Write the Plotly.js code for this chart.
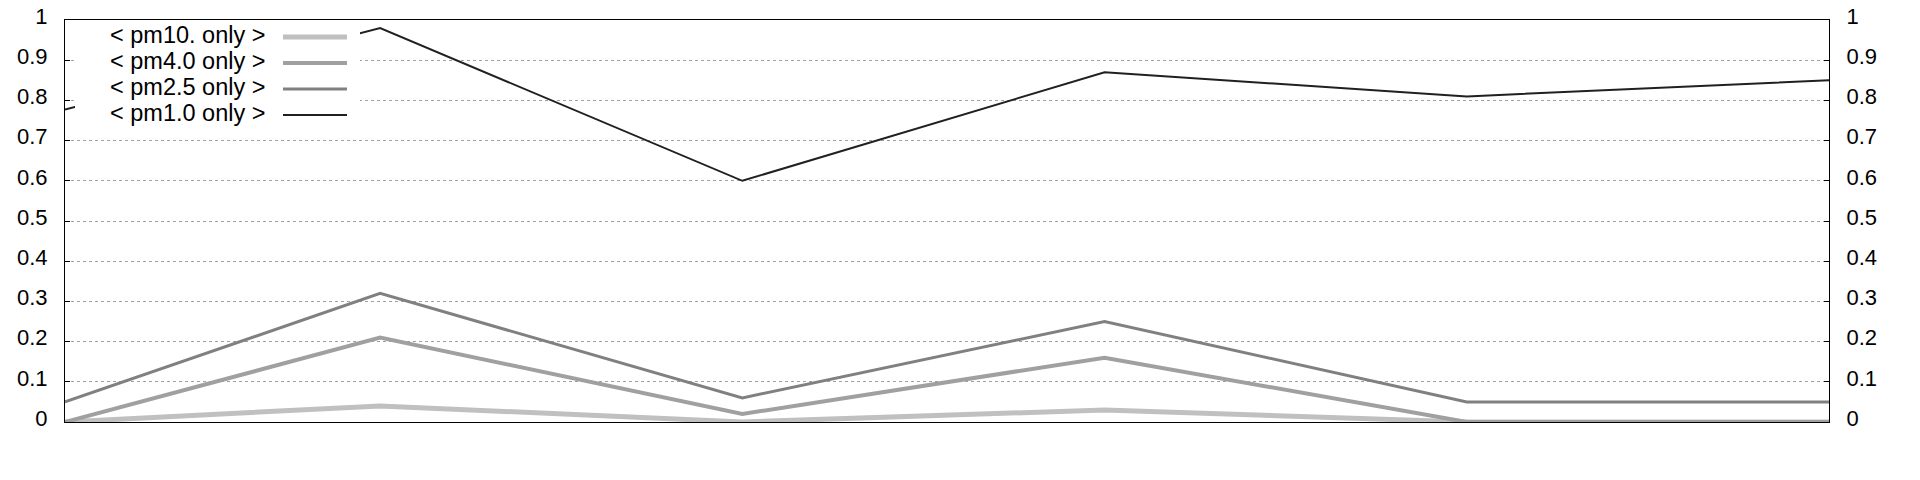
<!DOCTYPE html>
<html><head><meta charset="utf-8">
<script src="https://cdn.plot.ly/plotly-3.0.1.min.js"></script>
<style>html,body{margin:0;padding:0;background:#fff}#chart{width:1920px;height:480px}</style>
</head><body><div id="chart"></div>
<script>
// sample positions (first value is where the visible record starts at the left border)
const xPos = [0.13, 1, 2, 3, 4, 5];
const seriesNames = ['< pm10. only >', '< pm4.0 only >', '< pm2.5 only >', '< pm1.0 only >'];
const pm10Only = [0.0, 0.04, 0.0, 0.03, 0.0, 0.0];
const pm40Only = [0.0, 0.21, 0.02, 0.16, 0.0, 0.0];
const pm25Only = [0.05, 0.32, 0.06, 0.25, 0.05, 0.05];
const pm1Only  = [0.777, 0.98, 0.60, 0.87, 0.81, 0.85];
const yTickVals = [0, 0.1, 0.2, 0.3, 0.4, 0.5, 0.6, 0.7, 0.8, 0.9, 1];
const yTickText = ['0', '0.1', '0.2', '0.3', '0.4', '0.5', '0.6', '0.7', '0.8', '0.9', '1'];

const seriesValues = [pm10Only, pm40Only, pm25Only, pm1Only];
const colors = ['#c0c0c0', '#a0a0a0', '#808080', '#202020'];
const widths = [5, 4, 3, 2];

const FONT = '"Liberation Sans", Arial, sans-serif';
const FS_TICK = 22;
const FS_LEG = 23.5;

const traces = seriesValues.map((vals, i) => ({
  type: 'scatter', mode: 'lines', x: xPos, y: vals, name: seriesNames[i],
  line: {color: colors[i], width: widths[i]}, hoverinfo: 'skip'
}));
// empty trace so the right-hand mirrored axis gets drawn
traces.push({type: 'scatter', mode: 'lines', x: [], y: [], yaxis: 'y2', showlegend: false, hoverinfo: 'skip'});

// layout geometry
const L = 65, R = 91, T = 20, B = 58, W = 1920, H = 480;
const pw = W - L - R, ph = H - T - B;
const px2x = p => (p - L) / pw;
const px2y = p => (H - B - p) / ph;

const rowsPx = [37, 63, 89, 115];
const shapes = [{
  type: 'rect', xref: 'paper', yref: 'paper', layer: 'above',
  x0: px2x(75), x1: px2x(360), y0: px2y(127), y1: px2y(22),
  fillcolor: '#ffffff', line: {width: 0}
}];
const annotations = [];
seriesNames.forEach((n, i) => {
  shapes.push({type: 'line', xref: 'paper', yref: 'paper', layer: 'above',
    x0: px2x(283), x1: px2x(347), y0: px2y(rowsPx[i]), y1: px2y(rowsPx[i]),
    line: {color: colors[i], width: widths[i]}});
  annotations.push({xref: 'paper', yref: 'paper', x: px2x(267), y: px2y(rowsPx[i] - 2),
    xanchor: 'right', yanchor: 'middle', showarrow: false, text: n,
    font: {family: FONT, size: FS_LEG, color: '#000'}});
});

const yCommon = {
  range: [0, 1], tickmode: 'array', tickvals: yTickVals, ticktext: yTickText,
  ticks: 'inside', ticklen: 5, tickcolor: '#000', tickwidth: 1,
  zeroline: false, showline: true, linecolor: '#000', linewidth: 1,
  tickfont: {family: FONT, size: FS_TICK, color: '#000'}, ticklabelstandoff: 12,
  ticklabelshift: -4
};

const layout = {
  width: W, height: H,
  margin: {l: L, r: R, t: T, b: B, pad: 0},
  paper_bgcolor: '#fff', plot_bgcolor: '#fff',
  showlegend: false,
  font: {family: FONT, size: FS_TICK, color: '#000'},
  xaxis: {range: [xPos[0], xPos[xPos.length - 1]], showticklabels: false, ticks: '',
    showgrid: false, zeroline: false, showline: true, mirror: true, linecolor: '#000', linewidth: 1},
  yaxis: Object.assign({}, yCommon, {showgrid: true, gridcolor: '#a0a0a0', griddash: 'dot', gridwidth: 1}),
  yaxis2: Object.assign({}, yCommon, {overlaying: 'y', side: 'right', showgrid: false}),
  shapes: shapes, annotations: annotations
};

Plotly.newPlot('chart', traces, layout, {staticPlot: true, displayModeBar: false});
</script></body></html>
